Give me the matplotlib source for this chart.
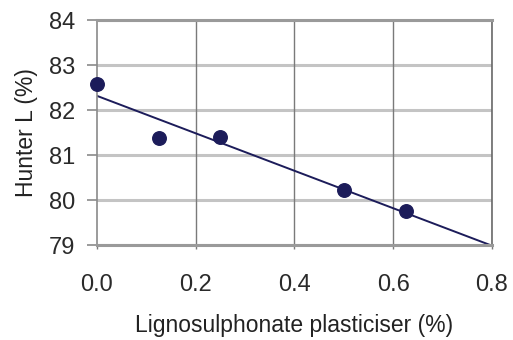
import matplotlib.pyplot as plt
import numpy as np

plt.rcParams['font.family'] = ['Liberation Sans', 'DejaVu Sans']

# 木质素磺酸盐增塑剂用量 vs Hunter L
plasticiser = [0.0, 0.125, 0.25, 0.5, 0.625]
hunter_l = [82.58, 81.37, 81.41, 80.22, 79.76]

x_ticks = [0.0, 0.2, 0.4, 0.6, 0.8]
y_ticks = [79, 80, 81, 82, 83, 84]

navy = '#1c1c5a'

fig = plt.figure(figsize=(5.13, 3.4), dpi=100)
ax = fig.add_axes([0.189, 0.279, 0.770, 0.662])

# 网格
for yv in y_ticks:
    ax.axhline(yv, color='#c4c4c4', lw=2.2, zorder=1)
for xv in x_ticks[1:]:
    ax.axvline(xv, color='#7a7a7a', lw=1.0, zorder=1)

# 线性趋势线
slope, intercept = np.polyfit(plasticiser, hunter_l, 1)
line_x = np.array([0.0, 0.8])
ax.plot(line_x, slope * line_x + intercept, color=navy, lw=1.4, zorder=2)

ax.scatter(plasticiser, hunter_l, s=95, color=navy, zorder=3, clip_on=False)

ax.set_xlim(0, 0.8)
ax.set_ylim(79, 84)
ax.set_xticks(x_ticks)
ax.set_xticklabels([f'{v:.1f}' for v in x_ticks])
ax.set_yticks(y_ticks)

for side in ['top', 'bottom']:
    ax.spines[side].set_color('#9a9a9a')
    ax.spines[side].set_linewidth(2.2)
ax.spines['left'].set_color('#8a8a8a')
ax.spines['left'].set_linewidth(1.2)
ax.spines['right'].set_color('#6a6a6a')
ax.spines['right'].set_linewidth(1.2)

ax.tick_params(axis='y', direction='out', length=7, width=1.2, color='#8a8a8a',
               pad=8.5, labelsize=17, labelcolor='#2a2a2a')
ax.tick_params(axis='x', direction='out', length=3, width=1.0, color='#7a7a7a',
               pad=18, labelsize=17, labelcolor='#2a2a2a')

ax.set_xlabel('Lignosulphonate plasticiser (%)', fontsize=16.5, color='#222222', labelpad=13)
ax.set_ylabel('Hunter L (%)', fontsize=16.5, color='#222222', labelpad=8)

fig.savefig('out.png', dpi=100)
